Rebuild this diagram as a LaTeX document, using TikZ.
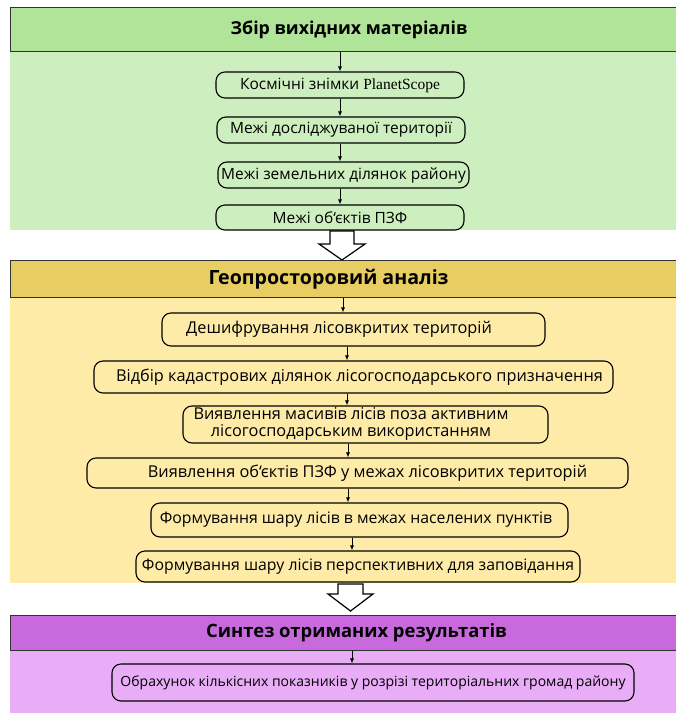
\documentclass[tikz,border=0pt]{standalone}
\usepackage{fontspec}
\setmainfont{Open Sans}
\newfontfamily\tnr{Liberation Serif}
\usetikzlibrary{arrows.meta}
\definecolor{hgreen}{RGB}{176,228,152}
\definecolor{bgreen}{RGB}{205,238,190}
\definecolor{hyellow}{RGB}{232,206,98}
\definecolor{byellow}{RGB}{254,235,168}
\definecolor{hpurple}{RGB}{200,106,222}
\definecolor{bpurple}{RGB}{233,172,247}
\definecolor{hline}{RGB}{50,50,50}
\begin{document}
\begin{tikzpicture}[x=1pt,y=-1pt,
  box/.style={draw=black, line width=1.1pt, rounded corners=9pt, inner sep=0pt, align=center},
  gbox/.style={box, font=\fontsize{15.5}{17}\selectfont},
  ybox/.style={box, font=\fontsize{16.3}{16.5}\selectfont},
  pbox/.style={box, font=\fontsize{14}{16}\selectfont},
  hdr/.style={draw=hline, line width=1.2pt, inner sep=0pt, anchor=north west,
    minimum width=690pt, font=\bfseries},
  arr/.style={-{Latex[length=5pt,width=4pt]}, line width=0.8pt},
  bigarr/.style={draw=black, fill=white, line width=1.2pt, line join=miter}
]
\useasboundingbox (0,0) rectangle (676,713);
% bodies
\fill[bgreen] (10,51) rectangle (676,230);
\fill[byellow] (10,297) rectangle (676,583);
\fill[bpurple] (10,650) rectangle (676,713);
% headers
\node[hdr, fill=hgreen, minimum height=44pt, font=\fontsize{17.8}{20}\selectfont\bfseries] (h1) at (10,7) {\hspace*{-13pt}Збір вихідних матеріалів};
\node[hdr, fill=hyellow, minimum height=37pt, font=\fontsize{19.6}{22}\selectfont\bfseries] (h2) at (10,260) {\hspace*{-54pt}Геопросторовий аналіз};
\node[hdr, fill=hpurple, minimum height=35pt, font=\fontsize{18.4}{21}\selectfont\bfseries] (h3) at (10,615) {\hspace*{2pt}Синтез отриманих результатів};
% green boxes
\node[gbox, minimum width=248pt, minimum height=26pt] (b1) at (340,85) {Космічні знімки {\tnr PlanetScope}};
\node[gbox, minimum width=248pt, minimum height=26pt] (b2) at (341,130) {Межі досліджуваної території};
\node[gbox, minimum width=251pt, minimum height=26pt] (b3) at (343.5,175) {Межі земельних ділянок району};
\node[gbox, minimum width=248pt, minimum height=25pt] (b4) at (340,217.5) {Межі об\char"60 єктів ПЗФ};
% yellow boxes
\node[ybox, minimum width=383pt, minimum height=33pt] (c1) at (353.5,329.5) {\hspace*{-29pt}Дешифрування лісовкритих територій};
\node[ybox, minimum width=519pt, minimum height=32pt] (c2) at (353.5,377) {\hspace*{12pt}Відбір кадастрових ділянок лісогосподарського призначення};
\node[ybox, minimum width=365pt, minimum height=37pt] (c3) at (365.5,424.5) {\hspace*{-29pt}\begin{tabular}{@{}c@{}}Виявлення масивів лісів поза активним\\ лісогосподарським використанням\end{tabular}};
\node[ybox, minimum width=541pt, minimum height=30pt] (c4) at (357.5,473) {\hspace*{20pt}Виявлення об\char"60 єктів ПЗФ у межах лісовкритих територій};
\node[ybox, minimum width=417pt, minimum height=34pt, font=\fontsize{15.8}{16.5}\selectfont] (c5) at (359.5,520) {\hspace*{-7pt}Формування шару лісів в межах населених пунктів};
\node[ybox, minimum width=444pt, minimum height=31pt, font=\fontsize{15.8}{16.5}\selectfont] (c6) at (358,566.5) {Формування шару лісів перспективних для заповідання};
% purple box
\node[pbox, minimum width=522pt, minimum height=37pt] (d1) at (373,682.5) {Обрахунок кількісних показників у розрізі територіальних громад району};
% arrow x positions
\coordinate (gx) at (340,0);
\coordinate (y1) at (343,0);
\coordinate (y2) at (347,0);
\coordinate (y3) at (348,0);
\coordinate (y4) at (352,0);
% green connectors
\draw[arr] (h1.south -| gx) -- (b1.north -| gx);
\draw[arr] (b1.south -| gx) -- (b2.north -| gx);
\draw[arr] (b2.south -| gx) -- (b3.north -| gx);
\draw[arr] (b3.south -| gx) -- (b4.north -| gx);
% yellow connectors
\draw[arr] (h2.south -| y1) -- (c1.north -| y1);
\draw[arr] (c1.south -| y2) -- (c2.north -| y2);
\draw[arr] (c2.south -| y2) -- (c3.north -| y2);
\draw[arr] (c3.south -| y3) -- (c4.north -| y3);
\draw[arr] (c4.south -| y3) -- (c5.north -| y3);
\draw[arr] (c5.south -| y4) -- (c6.north -| y4);
% purple connector
\draw[arr] (h3.south -| y4) -- (d1.north -| y4);
% hollow arrows
\draw[bigarr] (330,231) -- (354,231) -- (354,244) -- (365,244) -- (342,260) -- (319,244) -- (330,244) -- cycle;
\draw[bigarr] (338,584) -- (363,584) -- (363,594) -- (373,594) -- (350.5,611) -- (328,594) -- (338,594) -- cycle;
\end{tikzpicture}
\end{document}
